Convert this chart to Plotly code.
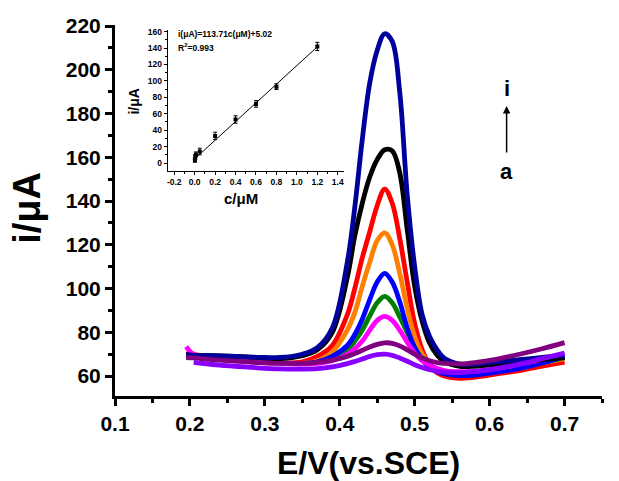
import plotly.graph_objects as go

# ---------------- data ----------------
potential = [0.195, 0.205, 0.23, 0.26, 0.29, 0.32, 0.35, 0.37, 0.39, 0.41, 0.42, 0.43, 0.44, 0.45,
             0.46, 0.47, 0.48, 0.49, 0.50, 0.51, 0.52, 0.53, 0.54, 0.56, 0.58, 0.61, 0.64, 0.67, 0.70]

curve_navy = [69.8, 69.5, 69.3, 69.0, 68.6, 68.5, 70.0, 73.0, 82.0, 112.0, 137.0, 168.0, 194.0, 209.0,
              216.5, 213.0, 190.0, 143.0, 110.0, 88.0, 78.0, 72.0, 68.0, 65.5, 65.5, 66.5, 67.5, 68.5, 69.6]
curve_black = [69.8, 69.5, 69.3, 69.0, 68.5, 68.0, 69.3, 72.0, 80.0, 105.0, 124.0, 139.0, 151.0, 159.0,
               163.5, 163.0, 153.0, 127.0, 101.0, 85.0, 75.0, 69.5, 66.5, 64.5, 64.5, 65.5, 66.5, 67.5, 68.5]
curve_red = [70.0, 69.5, 68.5, 67.5, 66.5, 66.0, 66.5, 69.0, 74.0, 88.0, 100.0, 114.0, 126.0, 138.0,
             145.5, 139.0, 123.0, 103.0, 84.0, 72.0, 65.0, 61.5, 60.0, 59.0, 59.5, 61.0, 62.5, 64.5, 66.4]
curve_orange = [70.5, 70.0, 68.5, 67.2, 66.3, 66.0, 65.8, 67.0, 71.0, 81.0, 89.0, 101.0, 112.0, 122.0,
                125.5, 120.0, 107.0, 91.0, 78.0, 70.0, 65.5, 63.0, 62.0, 61.0, 61.5, 62.5, 64.0, 66.0, 68.0]
curve_blue = [69.8, 69.5, 68.5, 67.5, 66.5, 66.0, 65.8, 66.5, 69.0, 74.0, 79.0, 86.0, 95.0, 103.0,
              107.0, 103.0, 94.0, 82.0, 73.0, 67.5, 64.0, 62.0, 61.0, 60.2, 60.5, 61.8, 63.5, 66.0, 69.0]
curve_green = [69.8, 69.5, 68.5, 67.5, 66.5, 66.0, 65.8, 66.3, 68.0, 72.0, 76.0, 81.0, 87.5, 93.5,
               96.4, 93.5, 87.0, 80.0, 73.0, 68.0, 65.0, 63.0, 62.0, 61.3, 61.5, 62.5, 64.0, 66.0, 68.5]
curve_magenta = [73.5, 70.0, 68.5, 67.3, 66.3, 65.8, 65.5, 65.8, 67.0, 70.0, 72.5, 76.0, 81.0, 85.5,
                 87.3, 85.5, 81.0, 75.5, 70.5, 67.0, 65.0, 63.5, 62.5, 62.0, 62.2, 63.5, 65.5, 67.5, 70.0]
curve_purple = [68.5, 68.3, 67.5, 66.8, 66.2, 65.8, 65.8, 66.3, 67.3, 69.0, 70.3, 71.8, 73.3, 74.5,
                75.2, 75.0, 73.8, 72.0, 70.0, 68.3, 67.0, 66.2, 65.8, 65.6, 66.2, 67.8, 70.0, 72.5, 75.3]
curve_violet = [None, 66.3, 65.3, 64.5, 63.8, 63.3, 63.2, 63.4, 64.2, 65.7, 66.7, 67.8, 69.0, 69.8,
                70.0, 69.5, 68.3, 66.8, 65.2, 63.9, 62.9, 62.2, 61.8, 61.6, 62.0, 63.5, 65.5, 68.0, 70.5]

# inset calibration data
conc = [0.002, 0.006, 0.012, 0.05, 0.2, 0.4, 0.6, 0.8, 1.2]
current = [3.5, 7.5, 10.5, 14.0, 33.0, 53.0, 72.0, 93.0, 142.0]
current_err = [2.5, 3.0, 3.0, 4.0, 4.5, 4.5, 4.0, 3.5, 5.0]
fit_conc = [0.02, 1.2]
fit_current = [7.3, 141.5]

x_ticks = [0.1, 0.2, 0.3, 0.4, 0.5, 0.6, 0.7]
y_ticks = [60, 80, 100, 120, 140, 160, 180, 200, 220]

# ---------------- figure ----------------
FONT = "Liberation Sans"
fig = go.Figure()

order = [
    (curve_red, "#FF0000"),
    (curve_orange, "#FF8000"),
    (curve_green, "#008000"),
    (curve_blue, "#0000FF"),
    (curve_magenta, "#FF00FF"),
    (curve_black, "#000000"),
    (curve_navy, "#00009C"),
    (curve_violet, "#8800FF"),
    (curve_purple, "#800080"),
]
for vals, col in order:
    fig.add_trace(go.Scatter(x=potential, y=vals, mode="lines",
                             line=dict(color=col, width=4.8, shape="spline", smoothing=1.0),
                             showlegend=False, hoverinfo="skip"))

# inset
fig.add_trace(go.Scatter(x=fit_conc, y=fit_current, mode="lines", xaxis="x2", yaxis="y2",
                         line=dict(color="black", width=1), showlegend=False))
fig.add_trace(go.Scatter(x=conc, y=current, mode="markers", xaxis="x2", yaxis="y2",
                         marker=dict(symbol="square", size=4, color="black"),
                         error_y=dict(type="data", array=current_err, color="black",
                                      thickness=1, width=2),
                         showlegend=False))

tickfont_main = dict(family=FONT, size=21, color="black", weight="bold")
tickfont_in = dict(family=FONT, size=8.5, color="black", weight="bold")

fig.update_layout(
    width=619, height=481,
    margin=dict(l=115, r=17, t=25, b=85),
    plot_bgcolor="white", paper_bgcolor="white",
    xaxis=dict(range=[0.1, 0.75], tickvals=x_ticks, ticktext=[f"{v:.1f}" for v in x_ticks],
               showline=True, linewidth=3, linecolor="black", ticks="outside",
               ticklen=7, tickwidth=2.5, tickcolor="black", showgrid=False, zeroline=False,
               tickfont=tickfont_main,
               minor=dict(dtick=0.05, tick0=0.1, ticks="outside", ticklen=4, tickwidth=2.5,
                          tickcolor="black", showgrid=False)),
    yaxis=dict(range=[50.9, 220.5], tickvals=y_ticks,
               showline=True, linewidth=3, linecolor="black", ticks="outside",
               ticklen=7, tickwidth=2.5, tickcolor="black", showgrid=False, zeroline=False,
               tickfont=tickfont_main,
               minor=dict(dtick=10, tick0=60, ticks="outside", ticklen=4, tickwidth=2.5,
                          tickcolor="black", showgrid=False)),
    xaxis2=dict(domain=[0.108, 0.470], anchor="y2", range=[-0.265, 1.46],
                tickvals=[-0.2, 0.0, 0.2, 0.4, 0.6, 0.8, 1.0, 1.2, 1.4],
                ticktext=["-0.2", "0.0", "0.2", "0.4", "0.6", "0.8", "1.0", "1.2", "1.4"],
                showline=True, linewidth=1, linecolor="black", ticks="outside",
                ticklen=3, tickwidth=1, tickcolor="black", showgrid=False, zeroline=False,
                tickfont=tickfont_in,
                minor=dict(dtick=0.1, tick0=0, ticks="outside", ticklen=2, tickwidth=1,
                           tickcolor="black", showgrid=False)),
    yaxis2=dict(domain=[0.6065, 0.9865], anchor="x2", range=[-9.7, 162],
                tickvals=[0, 20, 40, 60, 80, 100, 120, 140, 160],
                showline=True, linewidth=1, linecolor="black", ticks="outside",
                ticklen=3, tickwidth=1, tickcolor="black", showgrid=False, zeroline=False,
                tickfont=tickfont_in,
                minor=dict(dtick=10, tick0=0, ticks="outside", ticklen=2, tickwidth=1,
                           tickcolor="black", showgrid=False)),
)

annos = [
    # main axis titles
    dict(text="E/V(vs.SCE)", x=0.52, y=-0.18, xref="paper", yref="paper",
         showarrow=False, font=dict(family=FONT, size=32, color="black", weight="bold"),
         xanchor="center", yanchor="middle"),
    dict(text="i/μA", x=-0.181, y=0.507, xref="paper", yref="paper", textangle=-90,
         showarrow=False, font=dict(family=FONT, size=38, color="black", weight="bold"),
         xanchor="center", yanchor="middle"),
    # inset titles
    dict(text="c/μM", x=0.258, y=0.532, xref="paper", yref="paper",
         showarrow=False, font=dict(family=FONT, size=15, color="black", weight="bold"),
         xanchor="center", yanchor="middle"),
    dict(text="i/μA", x=0.04, y=0.795, xref="paper", yref="paper", textangle=-90,
         showarrow=False, font=dict(family=FONT, size=14, color="black", weight="bold"),
         xanchor="center", yanchor="middle"),
    dict(text="i(μA)=113.71c(μM)+5.02", x=0.125, y=0.975, xref="paper", yref="paper",
         showarrow=False, font=dict(family=FONT, size=8.5, color="black", weight="bold"),
         xanchor="left", yanchor="middle"),
    dict(text="R<sup>2</sup>=0.993", x=0.125, y=0.94, xref="paper", yref="paper",
         showarrow=False, font=dict(family=FONT, size=8.5, color="black", weight="bold"),
         xanchor="left", yanchor="middle"),
    # arrow labels
    dict(text="i", x=0.6227, y=191.3, xref="x", yref="y", showarrow=False,
         font=dict(family=FONT, size=22, color="black", weight="bold"),
         xanchor="center", yanchor="middle"),
    dict(text="a", x=0.6227, y=153.5, xref="x", yref="y", showarrow=False,
         font=dict(family=FONT, size=22, color="black", weight="bold"),
         xanchor="center", yanchor="middle"),
    dict(text="", x=0.6227, y=183.5, xref="x", yref="y", ax=0, ay=48,
         showarrow=True, arrowhead=2, arrowsize=1, arrowwidth=1.5, arrowcolor="black"),
]
fig.update_layout(annotations=annos)

fig.write_html("out.html")
